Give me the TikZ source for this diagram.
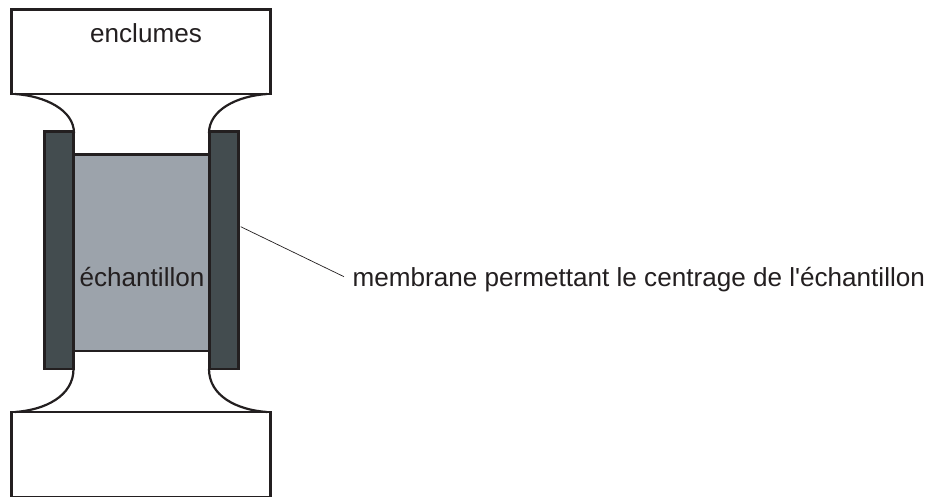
\documentclass[tikz,border=0pt]{standalone}
\usepackage{fontspec}
\newfontfamily\lib{Liberation Sans}
\definecolor{membr}{HTML}{434C4F}
\definecolor{sampl}{HTML}{9CA3AB}
\definecolor{ink}{HTML}{231F20}
\tikzset{
  outl/.style={draw=ink,line width=2.2pt,line join=miter},
  lbl/.style={inner sep=0pt,text=ink,font=\lib\fontsize{26.1}{28}\selectfont,anchor=base},
}
\begin{document}
\begin{tikzpicture}[x=1pt,y=-1pt]
\useasboundingbox (0,0) rectangle (930,497);
\fill[white] (0,0) rectangle (930,497);
\draw[outl,fill=sampl] (74,154.5) rectangle (209,351);
\draw[outl,fill=membr] (44.5,131.5) rectangle (73.5,369);
\draw[outl,fill=membr] (209.5,131.5) rectangle (238.5,369);
\draw[outl] (11.5,9.5) rectangle (270.5,94);
\draw[outl] (11.5,412) rectangle (270.5,497);
\draw[outl,line cap=round] (15,94) .. controls (45,96) and (74,110) .. (74,133);
\draw[outl,line cap=round] (267,94) .. controls (237,96) and (209,110) .. (209,133);
\draw[outl,line cap=round] (15,412) .. controls (45,410) and (73.5,396) .. (73.5,369);
\draw[outl,line cap=round] (267,412) .. controls (237,410) and (209,396) .. (209,369);
\node[lbl] (t1) at (146,43) {enclumes};
\node[lbl] (t2) at (142,287) {échantillon};
\node[lbl,anchor=base west] (t3) at (352.5,287) {membrane permettant le centrage de l'échantillon};
\coordinate (a) at (240.7,226.7);
\coordinate (b) at (344,276.7);
\draw[ink,line width=0.7pt] (a) -- (b);
\end{tikzpicture}
\end{document}
